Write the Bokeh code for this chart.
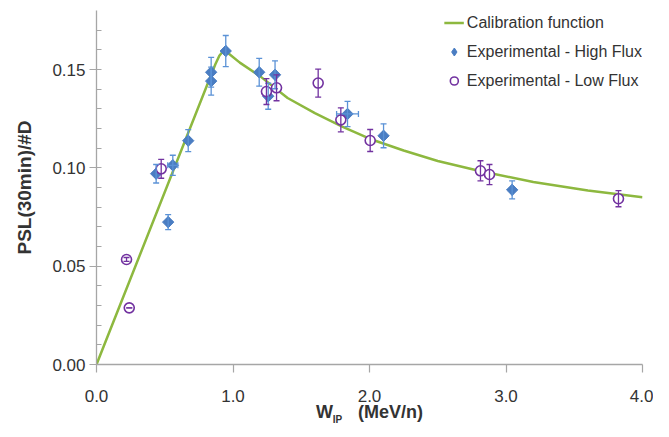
import math
from bokeh.plotting import figure
from bokeh.models import (ColumnDataSource, Whisker, TeeHead, Legend, LegendItem, LinearAxis,
                          SingleIntervalTicker, FixedTicker, PrintfTickFormatter, Range1d)
from bokeh.embed import file_html
from bokeh.resources import INLINE

# Calibration function
cal_x = [0.0, 0.87, 0.90, 0.93, 0.97, 1.05, 1.2, 1.4, 1.6, 1.8, 2.0, 2.25, 2.5, 2.8, 3.2, 3.6, 4.0]
cal_y = [0.0, 0.1525, 0.1570, 0.1595, 0.1580, 0.1535, 0.1465, 0.1355, 0.1278, 0.1210, 0.1148,
         0.1088, 0.1035, 0.0985, 0.0928, 0.0885, 0.0850]

# Experimental - High Flux
hi_x = [0.437, 0.525, 0.559, 0.672, 0.840, 0.840, 0.947, 1.192, 1.258, 1.308, 1.839, 2.103, 3.045]
hi_y = [0.0970, 0.0724, 0.1013, 0.1138, 0.1486, 0.1441, 0.1594, 0.1486, 0.1364, 0.1473, 0.1274, 0.1163, 0.0888]
hi_err = [0.0047, 0.0038, 0.0051, 0.0056, 0.0076, 0.0071, 0.0079, 0.0071, 0.0066, 0.0071, 0.0064, 0.0061, 0.0046]
hi_xerr = [0.0, 0.0, 0.037, 0.0, 0.0, 0.0, 0.0, 0.0, 0.0, 0.0, 0.08, 0.0, 0.0]

# Experimental - Low Flux
lo_x = [0.220, 0.240, 0.474, 1.245, 1.319, 1.624, 1.790, 2.005, 2.813, 2.879, 3.824]
lo_y = [0.0534, 0.0288, 0.0995, 0.1388, 0.1407, 0.1431, 0.1244, 0.1139, 0.0985, 0.0966, 0.0843]
lo_err = [0.0010, 0.0, 0.0048, 0.0066, 0.0066, 0.0071, 0.0061, 0.0056, 0.0051, 0.0051, 0.0041]

x_ticks_interval = 1.0
y_ticks_interval = 0.05

GREEN = "#8DB83F"
BLUE = "#4A7DC2"
BLUE_ERR = "#5B92D6"
PURPLE = "#7232A0"
AXIS = "#A6A6A6"
TEXT = "#333333"
FONT = "Liberation Sans"
NB = "\u00a0"

p = figure(frame_width=546, frame_height=354, x_range=Range1d(0, 4.0), y_range=Range1d(0, 0.18),
           output_backend="svg", toolbar_location=None,
           min_border_left=96, min_border_top=10, min_border_right=11, min_border_bottom=40)
p.outline_line_color = None
p.xgrid.grid_line_color = None
p.ygrid.grid_line_color = None
p.background_fill_color = "white"
p.border_fill_color = "white"

# axes
p.xaxis.ticker = SingleIntervalTicker(interval=x_ticks_interval, num_minor_ticks=0)
p.xaxis.formatter = PrintfTickFormatter(format="%.1f")
p.yaxis.ticker = SingleIntervalTicker(interval=y_ticks_interval, num_minor_ticks=5)
p.yaxis.formatter = PrintfTickFormatter(format="%.2f")
for ax in (p.xaxis, p.yaxis):
    ax.axis_line_color = AXIS
    ax.axis_line_width = 1.3
    ax.major_tick_line_color = AXIS
    ax.minor_tick_line_color = AXIS
    ax.major_tick_line_width = 1.2
    ax.minor_tick_line_width = 1.0
    ax.major_label_text_font = FONT
    ax.major_label_text_font_size = "17px"
    ax.major_label_text_color = TEXT
    ax.axis_label_text_font = FONT
    ax.axis_label_text_font_style = "bold"
    ax.axis_label_text_color = TEXT
p.xaxis.major_tick_out = 8
p.xaxis.major_tick_in = 0
p.xaxis.major_label_standoff = 17
p.xaxis.axis_label = "W" + NB * 5 + "(MeV/n)"
p.xaxis.axis_label_text_font_size = "18px"
p.xaxis.axis_label_standoff = -3
p.yaxis.major_tick_out = 7
p.yaxis.major_tick_in = 0
p.yaxis.minor_tick_out = 0
p.yaxis.minor_tick_in = 5
p.yaxis.major_label_standoff = 4
p.yaxis.axis_label = "PSL(30min)/#D"
p.yaxis.axis_label_text_font_size = "19px"
p.yaxis.axis_label_standoff = 14

# subscript "IP" of the x-axis title, as a label-only axis below the main one
sub_axis = LinearAxis(ticker=FixedTicker(ticks=[]), axis_label="IP" + NB * 23,
                      axis_line_color=None, major_tick_line_color=None, minor_tick_line_color=None,
                      major_tick_out=0, minor_tick_out=0, major_label_standoff=0,
                      axis_label_standoff=-11, axis_label_text_font=FONT,
                      axis_label_text_font_style="bold", axis_label_text_font_size="10px",
                      axis_label_text_color=TEXT)
p.add_layout(sub_axis, "below")

# error bars
hi_src = ColumnDataSource(dict(x=hi_x, y=hi_y,
                               up=[a + b for a, b in zip(hi_y, hi_err)],
                               lo=[a - b for a, b in zip(hi_y, hi_err)]))
hx = [i for i, e in enumerate(hi_xerr) if e > 0]
hi_xsrc = ColumnDataSource(dict(y=[hi_y[i] for i in hx],
                                up=[hi_x[i] + hi_xerr[i] for i in hx],
                                lo=[hi_x[i] - hi_xerr[i] for i in hx]))
lo_src = ColumnDataSource(dict(x=lo_x, y=lo_y,
                               up=[a + b for a, b in zip(lo_y, lo_err)],
                               lo=[a - b for a, b in zip(lo_y, lo_err)]))

def whisk(src, base, color, dim="height"):
    return Whisker(source=src, base=base, upper="up", lower="lo", dimension=dim,
                   line_color=color, line_width=1.3, level="glyph",
                   upper_head=TeeHead(size=6, line_color=color, line_width=1.3),
                   lower_head=TeeHead(size=6, line_color=color, line_width=1.3))

p.add_layout(whisk(hi_src, "x", BLUE_ERR))
p.add_layout(whisk(hi_xsrc, "y", BLUE_ERR, "width"))
p.add_layout(whisk(lo_src, "x", PURPLE))

r_cal = p.line(cal_x, cal_y, line_color=GREEN, line_width=2.5)
# small diamond (used for the legend) hidden under the rotated-square markers
r_hi = p.scatter("x", "y", source=hi_src, marker="diamond", size=11,
                 fill_color=BLUE, line_color=BLUE)
p.scatter("x", "y", source=hi_src, marker="square", angle=math.pi / 4, size=8,
          fill_color=BLUE, line_color=BLUE, line_width=1)
r_lo = p.scatter("x", "y", source=lo_src, marker="circle", size=10, fill_color="white",
                 line_color=PURPLE, line_width=1.6)

legend = Legend(items=[LegendItem(label="Calibration function", renderers=[r_cal]),
                       LegendItem(label="Experimental - High Flux", renderers=[r_hi]),
                       LegendItem(label="Experimental - Low Flux", renderers=[r_lo])],
                location="top_right", border_line_color=None, background_fill_alpha=0,
                label_text_font=FONT, label_text_font_size="16px", label_text_color=TEXT,
                glyph_width=20, glyph_height=25, label_height=25, label_standoff=3,
                spacing=4, padding=5, margin=0)
p.add_layout(legend)

open("out.html", "w").write(file_html(p, INLINE))
